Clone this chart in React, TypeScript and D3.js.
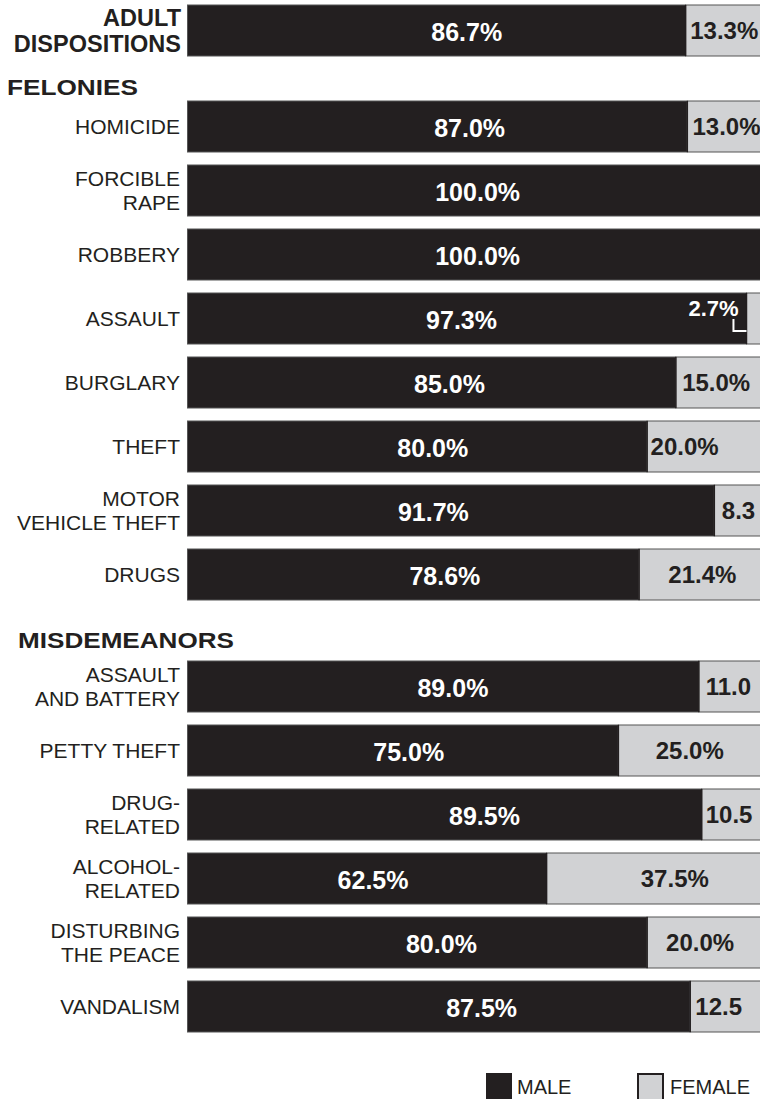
import React from "react";
import * as d3 from "d3";

// ---- data ----
const categories: string[][] = [
  ["ADULT", "DISPOSITIONS"],
  ["HOMICIDE"],
  ["FORCIBLE", "RAPE"],
  ["ROBBERY"],
  ["ASSAULT"],
  ["BURGLARY"],
  ["THEFT"],
  ["MOTOR", "VEHICLE THEFT"],
  ["DRUGS"],
  ["ASSAULT", "AND BATTERY"],
  ["PETTY THEFT"],
  ["DRUG-", "RELATED"],
  ["ALCOHOL-", "RELATED"],
  ["DISTURBING", "THE PEACE"],
  ["VANDALISM"],
];
const groups = ["total", "felony", "felony", "felony", "felony", "felony", "felony", "felony", "felony",
  "misd", "misd", "misd", "misd", "misd", "misd"];
const maleShare = [86.7, 87.0, 100, 100, 97.3, 85.0, 80.0, 91.7, 78.6, 89.0, 75.0, 89.5, 62.5, 80.0, 87.5];
const femaleShare = [13.3, 13.0, 0, 0, 2.7, 15.0, 20.0, 8.3, 21.4, 11.0, 25.0, 10.5, 37.5, 20.0, 12.5];
const sectionTitles = ["FELONIES", "MISDEMEANORS"];
const legendItems = ["MALE", "FEMALE"];

// ---- label placement (in value units on the x scale) ----
const maleLabelAt = [48.6, 49.1, 50.5, 50.5, 47.7, 45.6, 42.7, 42.8, 44.8, 46.2, 38.5, 51.7, 32.3, 44.2, 51.2];
const femaleLabelAt = [87.5, 87.9, 0, 0, 87.2, 86.1, 80.6, 93.0, 83.7, 90.2, 81.5, 90.2, 78.9, 83.3, 88.4];

const W = 760;
const H = 1099;
const MALE = "#231f20";
const FEMALE = "#d1d2d4";
const FONT = "'Liberation Sans', Arial, Helvetica, sans-serif";

function fmt(v: number) {
  return d3.format(".1f")(v) + "%";
}

export default function App() {
  const x = d3.scaleLinear().domain([0, 100]).range([187.5, 762]);
  const step = 64;
  const barH = 51;
  const extra: Record<string, number> = { total: 0, felony: 32, misd: 80 };
  const y = d3.scaleLinear().domain([0, 1]).range([5, 5 + step]);
  const top = (i: number) => y(i) + extra[groups[i]];
  const femaleFont = 24;
  const visibleRight = 759;

  // drop the trailing "%" when it would fall past the visible bar end (as in the original)
  const femaleText = (i: number) => {
    const full = fmt(femaleShare[i]);
    const w = (full.length - 2) * 0.556 * femaleFont + 0.278 * femaleFont + 0.889 * femaleFont;
    return x(femaleLabelAt[i]) + w > visibleRight + 2 ? full.slice(0, -1) : full;
  };

  return (
    <div style={{ position: "absolute", left: 0, top: 0 }}>
      <svg width={W} height={H} style={{ display: "block", background: "#fff" }} fontFamily={FONT}>
        {/* section titles */}
        <text x={7} y={95} fontSize={22} fontWeight="bold" fill={MALE} textLength={131} lengthAdjust="spacingAndGlyphs">
          {sectionTitles[0]}
        </text>
        <text x={18} y={648} fontSize={22} fontWeight="bold" fill={MALE} textLength={216} lengthAdjust="spacingAndGlyphs">
          {sectionTitles[1]}
        </text>

        {categories.map((lines, i) => {
          const t = top(i);
          const cy = t + barH / 2;
          const isTotal = groups[i] === "total";
          const lh = isTotal ? 26 : 24;
          const m = maleShare[i];
          const f = femaleShare[i];
          return (
            <g key={i}>
              {lines.map((ln, k) => (
                <text
                  key={k}
                  x={isTotal ? 181 : 180}
                  y={cy + (k - (lines.length - 1) / 2) * lh}
                  dy="0.36em"
                  textAnchor="end"
                  fontSize={isTotal ? 23.5 : 21}
                  fontWeight={isTotal ? "bold" : "normal"}
                  fill={MALE}
                >
                  {ln}
                </text>
              ))}
              <rect x={x(0)} y={t} width={x(m) - x(0)} height={barH} fill={MALE} stroke="#555" strokeWidth={1} />
              {f > 0 && (
                <rect x={x(m)} y={t} width={x(100) - x(m)} height={barH} fill={FEMALE} stroke="#555" strokeWidth={1} />
              )}
              {f > 0 && (
                <line x1={x(m)} x2={x(m)} y1={t} y2={t + barH} stroke={MALE} strokeWidth={1.5} />
              )}
              <text
                x={x(maleLabelAt[i])}
                y={cy + 1}
                dy="0.36em"
                textAnchor="middle"
                fontSize={25}
                fontWeight="bold"
                fill="#fff"
              >
                {fmt(m)}
              </text>
              {f > 0 && f < 5 && (
                <g>
                  <text x={x(femaleLabelAt[i])} y={t + 23} fontSize={22} fontWeight="bold" fill="#fff">
                    {fmt(f)}
                  </text>
                  <path
                    d={`M${x(femaleLabelAt[i]) + 45},${t + 26} V${t + 38} H${x(m)}`}
                    fill="none"
                    stroke="#fff"
                    strokeWidth={2}
                  />
                </g>
              )}
              {f >= 5 && (
                <text
                  x={x(femaleLabelAt[i])}
                  y={cy}
                  dy="0.36em"
                  fontSize={femaleFont}
                  fontWeight="bold"
                  fill={MALE}
                >
                  {femaleText(i)}
                </text>
              )}
            </g>
          );
        })}

        {/* legend */}
        <g>
          <rect x={486} y={1073} width={26} height={28} fill={MALE} />
          <text x={517} y={1094} fontSize={20} fill={MALE}>{legendItems[0]}</text>
          <rect x={638} y={1074} width={25} height={28} fill={FEMALE} stroke={MALE} strokeWidth={2} />
          <text x={670} y={1094} fontSize={20} fill={MALE}>{legendItems[1]}</text>
        </g>
      </svg>
    </div>
  );
}
